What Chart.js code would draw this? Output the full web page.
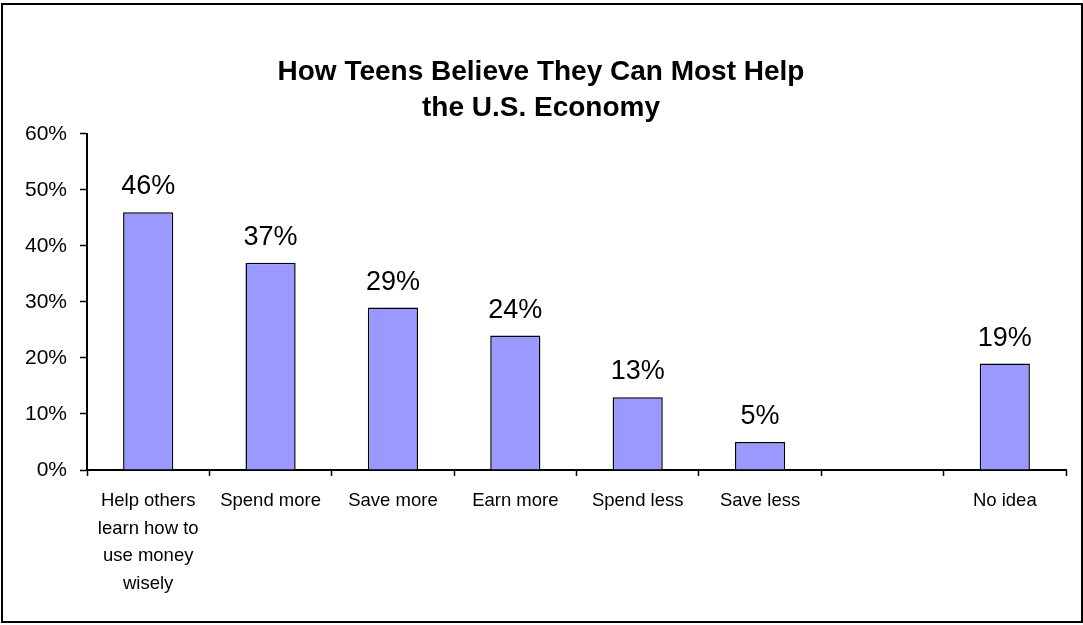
<!DOCTYPE html>
<html>
<head>
<meta charset="utf-8">
<title>How Teens Believe They Can Most Help the U.S. Economy</title>
<script src="https://cdn.jsdelivr.net/npm/chart.js@4/dist/chart.umd.min.js"></script>
<style>
  html, body { margin: 0; padding: 0; background: #ffffff; }
  canvas { display: block; }
</style>
</head>
<body>
<canvas id="chart" width="1083" height="625"></canvas>
<script>
// Survey answers (one blank slot separates "No idea" from the real answers)
const categories = [
  ['Help others', 'learn how to', 'use money', 'wisely'],
  'Spend more',
  'Save more',
  'Earn more',
  'Spend less',
  'Save less',
  '',
  'No idea'
];
const shares = [46, 37, 29, 24, 13, 5, null, 19];
const yTicks = [0, 10, 20, 30, 40, 50, 60];
const titleLines = ['How Teens Believe They Can Most Help', 'the U.S. Economy'];

const FONT = "'Liberation Sans', Arial, 'DejaVu Sans', sans-serif";

// White page with a dark frame around the whole chart
const framePlugin = {
  id: 'frame',
  beforeDraw(chart) {
    const ctx = chart.ctx;
    ctx.save();
    ctx.fillStyle = '#ffffff';
    ctx.fillRect(0, 0, chart.width, chart.height);
    ctx.restore();
  },
  afterDraw(chart) {
    const ctx = chart.ctx;
    ctx.save();
    ctx.strokeStyle = '#000000';
    ctx.lineWidth = 2;
    ctx.strokeRect(2, 4, chart.width - 3, chart.height - 7);
    ctx.restore();
  }
};

// Percentage labels written above each bar
const valueLabels = {
  id: 'valueLabels',
  afterDatasetsDraw(chart) {
    const ctx = chart.ctx;
    const meta = chart.getDatasetMeta(0);
    const values = chart.data.datasets[0].data;
    ctx.save();
    ctx.font = '27px ' + FONT;
    ctx.fillStyle = '#000000';
    ctx.textAlign = 'center';
    ctx.textBaseline = 'alphabetic';
    meta.data.forEach((bar, i) => {
      const v = values[i];
      if (v === null || v === undefined) return;
      ctx.fillText(v + '%', bar.x, bar.y - 18);
    });
    ctx.restore();
  }
};

new Chart(document.getElementById('chart'), {
  type: 'bar',
  data: {
    labels: categories,
    datasets: [{
      data: shares,
      backgroundColor: '#9999ff',
      borderColor: '#000000',
      borderWidth: 1.5,
      borderSkipped: 'bottom',
      categoryPercentage: 1.0,
      barPercentage: 0.41
    }]
  },
  options: {
    responsive: false,
    animation: false,
    events: [],
    layout: {
      autoPadding: false,
      padding: { left: 16, right: 17, top: 0, bottom: 0 }
    },
    plugins: {
      legend: { display: false },
      tooltip: { enabled: false },
      title: {
        display: true,
        text: titleLines,
        color: '#000000',
        font: { family: FONT, size: 28, weight: 'bold', lineHeight: 1.3 },
        padding: { top: 54, bottom: 7 }
      }
    },
    scales: {
      x: {
        offset: true,
        grid: {
          offset: true,
          display: true,
          drawOnChartArea: false,
          drawTicks: true,
          tickLength: 6,
          tickColor: '#000000',
          tickWidth: 1.5
        },
        border: { display: true, color: '#000000', width: 2 },
        ticks: {
          color: '#000000',
          font: { family: FONT, size: 18.5, lineHeight: 1.5 },
          padding: 11,
          maxRotation: 0,
          minRotation: 0,
          autoSkip: false
        },
        afterFit(scale) { scale.height = 155; }
      },
      y: {
        min: 0,
        max: 60,
        afterBuildTicks(scale) { scale.ticks = yTicks.map(v => ({ value: v })); },
        grid: {
          display: true,
          drawOnChartArea: false,
          drawTicks: true,
          tickLength: 7,
          tickColor: '#000000',
          tickWidth: 1.5
        },
        border: { display: true, color: '#000000', width: 2 },
        ticks: {
          color: '#000000',
          font: { family: FONT, size: 21 },
          padding: 13,
          callback: v => v + '%'
        },
        afterFit(scale) { scale.width = 71; }
      }
    }
  },
  plugins: [framePlugin, valueLabels]
});
</script>
</body>
</html>
